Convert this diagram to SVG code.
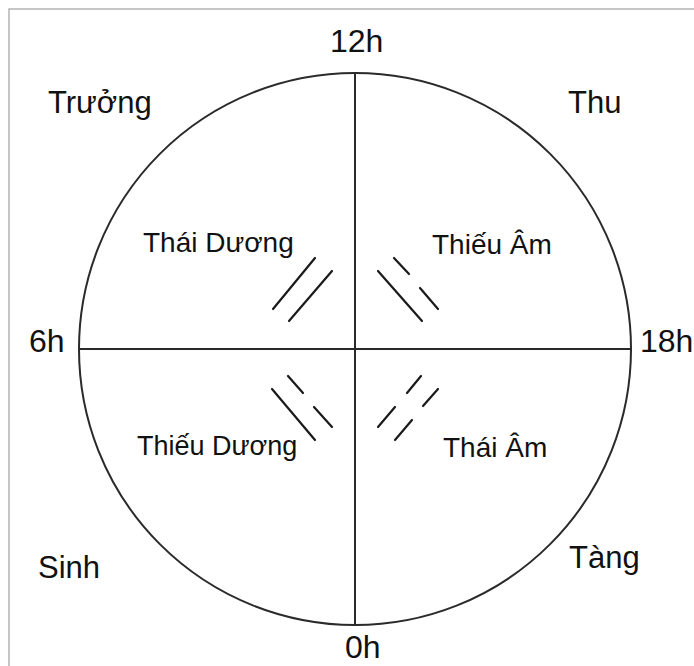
<svg xmlns="http://www.w3.org/2000/svg" width="694" height="666" viewBox="0 0 694 666">
<style>
.t{font-family:"Liberation Sans",Arial,sans-serif;fill:#111}
.o{font-size:31px}
.h{font-size:32px}
.i{font-size:28px}
.i2{font-size:27px}
.ln{stroke:#1a1a1a;stroke-width:2.2;stroke-linecap:round;fill:none}
.ax{stroke:#2a2a2a;stroke-width:2;fill:none}
</style>
<rect x="0" y="0" width="694" height="666" fill="#ffffff"/>
<rect x="9" y="9" width="720" height="720" fill="none" stroke="#b4b4b4" stroke-width="1.5"/>
<g id="connectors">
<circle cx="355" cy="349" r="276" class="ax"/>
<line x1="355" y1="73" x2="355" y2="625" class="ax"/>
<line x1="79" y1="349" x2="631" y2="349" class="ax"/>
</g>
<g id="thai-duong-sign">
<line x1="315" y1="258" x2="273" y2="309" class="ln"/>
<line x1="332" y1="271" x2="289" y2="321" class="ln"/>
</g>
<g id="thieu-am-sign">
<line x1="378" y1="271" x2="422" y2="321" class="ln"/>
<line x1="394" y1="258" x2="409" y2="274" class="ln"/>
<line x1="420" y1="288" x2="438" y2="309" class="ln"/>
</g>
<g id="thieu-duong-sign">
<line x1="272" y1="389" x2="315" y2="440" class="ln"/>
<line x1="288" y1="376" x2="303" y2="393" class="ln"/>
<line x1="314" y1="407" x2="332" y2="427" class="ln"/>
</g>
<g id="thai-am-sign">
<line x1="421" y1="376" x2="407" y2="393" class="ln"/>
<line x1="395" y1="407" x2="378" y2="427" class="ln"/>
<line x1="438" y1="389" x2="423" y2="406" class="ln"/>
<line x1="412" y1="420" x2="395" y2="440" class="ln"/>
</g>
<g id="label-12h"><text x="330" y="52" class="t h">12h</text></g>
<g id="label-0h"><text x="345" y="658" class="t h">0h</text></g>
<g id="label-6h"><text x="29" y="352" class="t h">6h</text></g>
<g id="label-18h"><text x="640" y="352" class="t h">18h</text></g>
<g id="label-truong"><text x="48" y="113" class="t o">Trưởng</text></g>
<g id="label-thu"><text x="568" y="113" class="t o">Thu</text></g>
<g id="label-sinh"><text x="38" y="578" class="t o">Sinh</text></g>
<g id="label-tang"><text x="569" y="568" class="t o">Tàng</text></g>
<g id="label-thai-duong"><text x="143" y="252" class="t i">Thái Dương</text></g>
<g id="label-thieu-am"><text x="432" y="254" class="t i">Thiếu Âm</text></g>
<g id="label-thieu-duong"><text x="137" y="455" class="t i2">Thiếu Dương</text></g>
<g id="label-thai-am"><text x="443" y="457" class="t i">Thái Âm</text></g>
</svg>
